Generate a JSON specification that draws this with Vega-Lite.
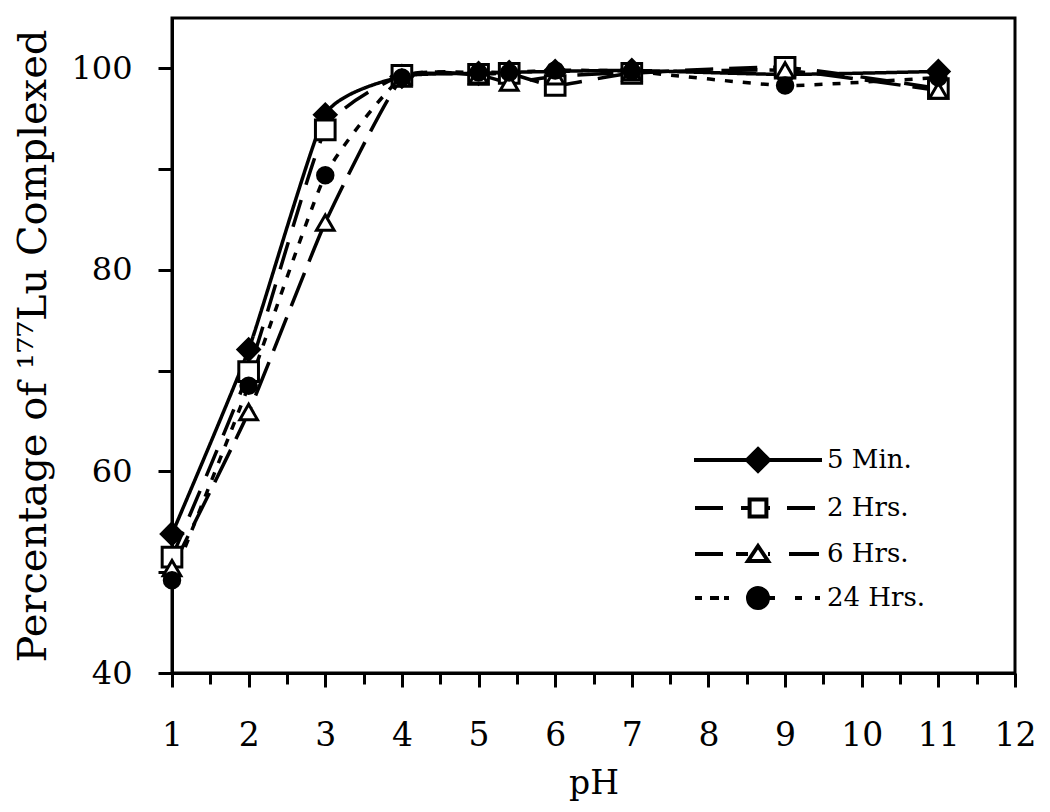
{
  "$schema": "https://vega.github.io/schema/vega-lite/v6.json",
  "width": 843,
  "height": 655,
  "autosize": "none",
  "padding": {"left": 172, "top": 18, "right": 35, "bottom": 139},
  "background": "white",
  "config": {
    "view": {"stroke": "black", "strokeWidth": 3},
    "font": "DejaVu Serif",
    "axis": {"grid": false, "domainColor": "black", "domainWidth": 3, "tickColor": "black", "tickWidth": 3, "labelColor": "black", "titleColor": "black", "labelFont": "DejaVu Serif", "titleFont": "DejaVu Serif", "titleFontWeight": "normal"},
    "legend": {"labelFont": "DejaVu Serif", "labelColor": "black"}
  },
  "data": {
    "values": [
      {"series": "5 Min.", "pH": 1, "pct": 53.8},
      {"series": "5 Min.", "pH": 2, "pct": 72.1},
      {"series": "5 Min.", "pH": 3, "pct": 95.4},
      {"series": "5 Min.", "pH": 4, "pct": 99.2},
      {"series": "5 Min.", "pH": 5, "pct": 99.5},
      {"series": "5 Min.", "pH": 5.4, "pct": 99.6},
      {"series": "5 Min.", "pH": 6, "pct": 99.7},
      {"series": "5 Min.", "pH": 7, "pct": 99.8},
      {"series": "5 Min.", "pH": 9, "pct": 99.4},
      {"series": "5 Min.", "pH": 11, "pct": 99.7},
      {"series": "2 Hrs.", "pH": 1, "pct": 51.5},
      {"series": "2 Hrs.", "pH": 2, "pct": 69.9},
      {"series": "2 Hrs.", "pH": 3, "pct": 93.9},
      {"series": "2 Hrs.", "pH": 4, "pct": 99.3},
      {"series": "2 Hrs.", "pH": 5, "pct": 99.4},
      {"series": "2 Hrs.", "pH": 5.4, "pct": 99.5},
      {"series": "2 Hrs.", "pH": 6, "pct": 98.3},
      {"series": "2 Hrs.", "pH": 7, "pct": 99.5},
      {"series": "2 Hrs.", "pH": 9, "pct": 100.1},
      {"series": "2 Hrs.", "pH": 11, "pct": 98.0},
      {"series": "6 Hrs.", "pH": 1, "pct": 50.4},
      {"series": "6 Hrs.", "pH": 2, "pct": 65.9},
      {"series": "6 Hrs.", "pH": 3, "pct": 84.7},
      {"series": "6 Hrs.", "pH": 4, "pct": 99.0},
      {"series": "6 Hrs.", "pH": 5, "pct": 99.3},
      {"series": "6 Hrs.", "pH": 5.4, "pct": 98.6},
      {"series": "6 Hrs.", "pH": 6, "pct": 99.2},
      {"series": "6 Hrs.", "pH": 7, "pct": 99.6},
      {"series": "6 Hrs.", "pH": 9, "pct": 99.8},
      {"series": "6 Hrs.", "pH": 11, "pct": 97.8},
      {"series": "24 Hrs.", "pH": 1, "pct": 49.2},
      {"series": "24 Hrs.", "pH": 2, "pct": 68.5},
      {"series": "24 Hrs.", "pH": 3, "pct": 89.4},
      {"series": "24 Hrs.", "pH": 4, "pct": 99.1},
      {"series": "24 Hrs.", "pH": 5, "pct": 99.6},
      {"series": "24 Hrs.", "pH": 5.4, "pct": 99.6},
      {"series": "24 Hrs.", "pH": 6, "pct": 99.8},
      {"series": "24 Hrs.", "pH": 7, "pct": 99.7},
      {"series": "24 Hrs.", "pH": 9, "pct": 98.3},
      {"series": "24 Hrs.", "pH": 11, "pct": 99.1}
    ]
  },
  "layer": [
    {
      "mark": {"type": "line", "interpolate": "cardinal", "tension": 0.5, "color": "black"},
      "encoding": {
        "x": {"field": "pH", "type": "quantitative", "scale": {"domain": [1, 12], "nice": false, "zero": false},
              "axis": {"orient": "bottom", "values": [1,2,3,4,5,6,7,8,9,10,11,12], "tickSize": 14, "labelFontSize": 33, "labelPadding": 32, "title": "pH", "titleFontSize": 33, "titlePadding": 15, "labelFlush": false}},
        "y": {"field": "pct", "type": "quantitative", "scale": {"domain": [40, 105], "nice": false, "zero": false},
              "axis": {"orient": "left", "values": [40,50,60,70,80,90,100], "tickSize": 14, "labelFontSize": 32, "labelPadding": 26, "labelExpr": "datum.value % 20 == 0 ? datum.label : ''", "title": "Percentage of ¹⁷⁷Lu Complexed", "titleFontSize": 40, "titlePadding": 17, "labelFlush": false}},
        "strokeDash": {"field": "series", "type": "nominal",
              "scale": {"domain": ["5 Min.", "2 Hrs.", "6 Hrs.", "24 Hrs."], "range": [[1, 0], [28, 16], [36, 12], [8, 10]]},
              "legend": null},
        "strokeWidth": {"field": "series", "type": "nominal",
              "scale": {"domain": ["5 Min.", "2 Hrs.", "6 Hrs.", "24 Hrs."], "range": [3.5, 3.5, 3.5, 4.5]},
              "legend": null}
      }
    },
    {
      "mark": {"type": "point", "filled": true, "stroke": "black", "strokeWidth": 3, "opacity": 1},
      "encoding": {
        "x": {"field": "pH", "type": "quantitative",
              "axis": {"orient": "bottom", "values": [1.5,2.5,3.5,4.5,5.5,6.5,7.5,8.5,9.5,10.5,11.5], "tickSize": 11, "labels": false, "domain": false, "title": null}},
        "y": {"field": "pct", "type": "quantitative", "axis": null},
        "shape": {"field": "series", "type": "nominal",
              "scale": {"domain": ["5 Min.", "2 Hrs.", "6 Hrs.", "24 Hrs."], "range": ["diamond", "square", "triangle-up", "circle"]},
              "legend": null},
        "fill": {"field": "series", "type": "nominal",
              "scale": {"domain": ["5 Min.", "2 Hrs.", "6 Hrs.", "24 Hrs."], "range": ["black", "white", "white", "black"]},
              "legend": null},
        "size": {"field": "series", "type": "nominal",
              "scale": {"domain": ["5 Min.", "2 Hrs.", "6 Hrs.", "24 Hrs."], "range": [460, 240, 320, 400]},
              "legend": null}
      }
    },
    {
      "transform": [{"filter": "false"}],
      "mark": {"type": "point", "filled": true, "stroke": "black", "strokeWidth": 3},
      "encoding": {
        "x": {"field": "pH", "type": "quantitative", "axis": null},
        "y": {"field": "pct", "type": "quantitative", "axis": null},
        "shape": {"field": "series", "type": "nominal",
              "scale": {"domain": ["5 Min.", "2 Hrs.", "6 Hrs.", "24 Hrs."],
                        "range": [
                          "M-3.2,0H3.2M0,-0.55L0.55,0L0,0.55L-0.55,0Z",
                          "M-3.15,0H-1.75M-0.85,0H-0.42M0.42,0H0.6M1.45,0H2.85M-0.42,-0.42H0.42V0.42H-0.42Z",
                          "M-3.15,0H-1.75M-1.1,0H-0.5M0.5,0H0.6M1.55,0H3.05M0,-0.4L0.5,0.35H-0.5Z",
                          "M-3.15,0H-2.8M-2.4,0H-1.95M-1.7,0H-1.45M0.5,0H0.85M1.85,0H2.2M2.85,0H3.1M-0.5,0A0.5,0.5 0 1,0 0.5,0A0.5,0.5 0 1,0 -0.5,0Z"
                        ]},
              "legend": {"title": null, "orient": "none", "legendX": 564, "legendY": 420, "padding": 0, "symbolSize": 1600, "symbolStrokeWidth": 4, "symbolStrokeColor": "black", "symbolOpacity": 1, "labelFontSize": 26, "labelOffset": 47, "rowPadding": 7,
                         "encode": {"symbols": {"update": {"stroke": {"value": "black"}, "strokeWidth": {"value": 4}, "opacity": {"value": 1}}}}}},
        "fill": {"field": "series", "type": "nominal",
              "scale": {"domain": ["5 Min.", "2 Hrs.", "6 Hrs.", "24 Hrs."], "range": ["black", "white", "white", "black"]},
              "legend": {"title": null, "orient": "none", "legendX": 564, "legendY": 420, "padding": 0, "symbolSize": 1600, "symbolStrokeWidth": 4, "symbolStrokeColor": "black", "symbolOpacity": 1, "labelFontSize": 26, "labelOffset": 47, "rowPadding": 7,
                         "encode": {"symbols": {"update": {"stroke": {"value": "black"}, "strokeWidth": {"value": 4}, "opacity": {"value": 1}}}}}}
      }
    }
  ],
  "resolve": {"scale": {"shape": "independent", "fill": "independent", "size": "independent", "strokeWidth": "independent"}, "axis": {"x": "independent", "y": "independent"}}
}
